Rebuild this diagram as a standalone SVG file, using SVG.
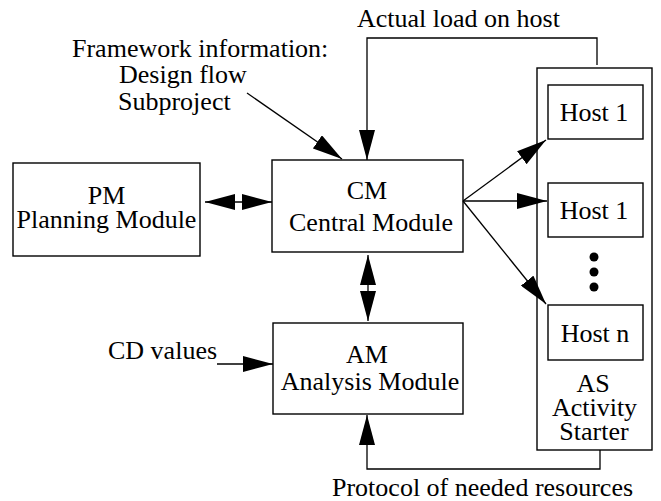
<svg xmlns="http://www.w3.org/2000/svg" width="661" height="501" viewBox="0 0 661 501">
  <defs>
    <marker id="head" viewBox="0 0 30 16" markerWidth="30" markerHeight="16" refX="30" refY="8" markerUnits="userSpaceOnUse" orient="auto-start-reverse">
      <path d="M0,0 L30,8 L0,16 z" fill="#000"/>
    </marker>
  </defs>
  <style>
    rect.box { fill: #fff; stroke: #000; stroke-width: 1.4; }
    text { font-family: 'Liberation Serif', serif; font-size: 26px; fill: #000; }
    .mid { text-anchor: middle; }
    .wire { fill: none; stroke: #000; stroke-width: 1.3; }
    .arrow { marker-end: url(#head); }
    .both { marker-start: url(#head); marker-end: url(#head); }
  </style>
  <rect width="661" height="501" fill="#fff"/>

  <!-- free-standing labels -->
  <g id="labels">
    <text x="72" y="57">Framework information:</text>
    <text x="119" y="83">Design flow</text>
    <text x="118" y="110">Subproject</text>
    <text x="357" y="27">Actual load on host</text>
    <text x="108" y="359">CD values</text>
    <text x="332" y="496">Protocol of needed resources</text>
  </g>

  <g id="pm">
    <rect class="box" x="13" y="163" width="187" height="93"/>
    <text class="mid" x="106.5" y="204">PM</text>
    <text class="mid" x="106.5" y="228">Planning Module</text>
  </g>

  <g id="cm">
    <rect class="box" x="272" y="160" width="191" height="92"/>
    <text class="mid" x="367" y="199">CM</text>
    <text class="mid" x="371" y="231">Central Module</text>
  </g>

  <g id="am">
    <rect class="box" x="273" y="323" width="190" height="91"/>
    <text class="mid" x="367" y="363">AM</text>
    <text class="mid" x="370" y="390">Analysis Module</text>
  </g>

  <g id="as">
    <rect class="box" x="537" y="68" width="115" height="382"/>
    <text class="mid" x="593" y="392">AS</text>
    <text class="mid" x="594.5" y="416">Activity</text>
    <text class="mid" x="594" y="440">Starter</text>
    <circle cx="594" cy="257" r="4.5" fill="#000"/>
    <circle cx="594" cy="272" r="4.5" fill="#000"/>
    <circle cx="594" cy="287" r="4.5" fill="#000"/>
  </g>

  <g id="host-1a">
    <rect class="box" x="548" y="85" width="95" height="54"/>
    <text class="mid" x="594" y="121">Host 1</text>
  </g>

  <g id="host-1b">
    <rect class="box" x="548" y="183" width="95" height="54"/>
    <text class="mid" x="594" y="219">Host 1</text>
  </g>

  <g id="host-n">
    <rect class="box" x="548" y="305" width="95" height="55"/>
    <text class="mid" x="595" y="342">Host n</text>
  </g>

  <g id="connectors">
    <line class="wire arrow" x1="247" y1="93" x2="342" y2="159"/>
    <polyline class="wire arrow" points="597,65 597,38 367,38 367,160"/>
    <line class="wire both" x1="205" y1="202" x2="272" y2="202"/>
    <line class="wire both" x1="368" y1="255" x2="368" y2="321"/>
    <line class="wire arrow" x1="463" y1="201" x2="546" y2="140"/>
    <line class="wire arrow" x1="463" y1="201" x2="547" y2="201"/>
    <line class="wire arrow" x1="463" y1="201" x2="546" y2="304"/>
    <line class="wire arrow" x1="217" y1="364" x2="273" y2="364"/>
    <polyline class="wire arrow" points="600,450 600,469 367,469 367,415"/>
  </g>
</svg>
